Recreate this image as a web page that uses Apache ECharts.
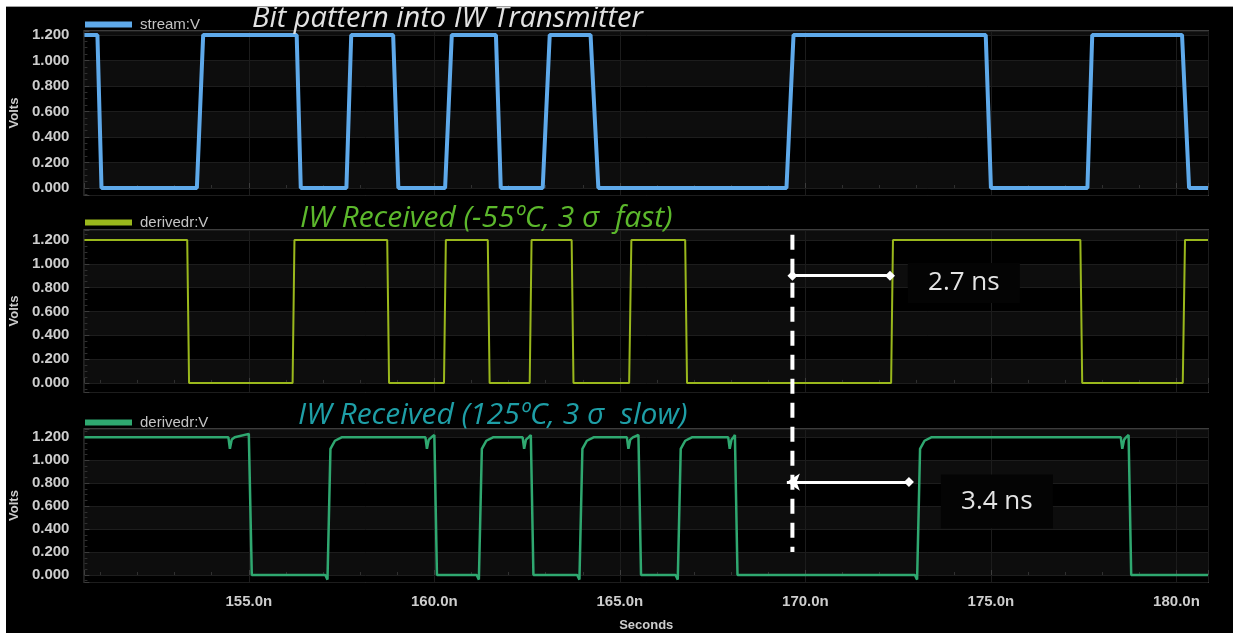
<!DOCTYPE html>
<html>
<head>
<meta charset="utf-8">
<title>IW transmitter bit pattern</title>
<script src="https://cdn.jsdelivr.net/npm/echarts@6.0.0/dist/echarts.min.js"></script>
<style>
  html, body { margin: 0; padding: 0; background: #000; }
  #main { width: 1233px; height: 633px; }
</style>
</head>
<body>
<div id="main"></div>
<script>
// time in ns, voltage in V
const streamT = [150.57, 150.92, 151.03, 153.60, 153.77, 156.29, 156.40, 157.63, 157.76, 158.89, 159.03, 160.29, 160.47, 161.66,
  161.79, 162.92, 163.11, 164.21, 164.42, 169.49, 169.68, 174.86, 175.00, 177.60, 177.73, 180.15, 180.34, 180.85];
const streamV = [1.2, 1.2, 0, 0, 1.2, 1.2, 0, 0, 1.2, 1.2, 0, 0, 1.2, 1.2,
  0, 0, 1.2, 1.2, 0, 0, 1.2, 1.2, 0, 0, 1.2, 1.2, 0, 0];

const fastT = [150.57, 153.34, 153.39, 156.18, 156.23, 158.73, 158.78, 160.26, 160.31, 161.44, 161.49, 162.57, 162.62,
  163.70, 163.75, 165.25, 165.31, 166.76, 166.81, 172.31, 172.36, 177.41, 177.46, 180.17, 180.23, 180.85];
const fastV = [1.2, 1.2, 0, 0, 1.2, 1.2, 0, 0, 1.2, 1.2, 0, 0, 1.2,
  1.2, 0, 0, 1.2, 1.2, 0, 0, 1.2, 1.2, 0, 0, 1.2, 1.2];

const slowT = [150.57,
  154.45, 154.49, 154.54, 154.62, 155.00, 155.08,
  157.06, 157.12, 157.20, 157.32, 157.50,
  159.76, 159.80, 159.85, 159.92, 160.00, 160.07,
  161.14, 161.20, 161.28, 161.40, 161.58,
  162.38, 162.42, 162.47, 162.54, 162.60, 162.67,
  163.85, 163.91, 163.99, 164.11, 164.29,
  165.19, 165.23, 165.28, 165.35, 165.50, 165.57,
  166.50, 166.56, 166.64, 166.76, 166.94,
  167.92, 167.96, 168.01, 168.06, 168.10, 168.17,
  172.95, 173.01, 173.09, 173.21, 173.39,
  178.50, 178.54, 178.59, 178.64, 178.71, 178.78,
  180.85];
const slowV = [1.2,
  1.2, 1.1, 1.18, 1.2, 1.23, 0,
  0, -0.04, 1.1, 1.17, 1.2,
  1.2, 1.1, 1.18, 1.2, 1.22, 0,
  0, -0.04, 1.1, 1.17, 1.2,
  1.2, 1.1, 1.18, 1.2, 1.22, 0,
  0, -0.04, 1.1, 1.17, 1.2,
  1.2, 1.1, 1.18, 1.2, 1.22, 0,
  0, -0.04, 1.1, 1.17, 1.2,
  1.2, 1.1, 1.18, 1.2, 1.22, 0,
  0, -0.04, 1.1, 1.17, 1.2,
  1.2, 1.1, 1.18, 1.2, 1.22, 0,
  0];

const xMin = 150.57;
const xMax = 180.85;
const yMins = [-0.055, -0.076, -0.061];
const yMaxs = [1.231, 1.284, 1.2725];

const cursorT = 169.65;
const fastDelayEnd = 172.28;
const fastDelayV = 0.9;
const slowDelayStart = 169.5;
const slowDelayEnd = 172.79;
const slowDelayV = 0.81;
const fastLabel = { t: 174.27, v: 0.84, text: '2.7 ns' };
const slowLabel = { t: 175.16, v: 0.64, text: '3.4 ns' };

const colors = ['#5ea9ea', '#9ab81c', '#2fa870'];
const titles = ['Bit pattern into IW Transmitter', 'IW Received (-55ºC, 3 σ  fast)', 'IW Received (125ºC, 3 σ  slow)'];
const titleColors = ['#e2e2e2', '#5cb82c', '#1e9ea6'];

const zip = (ts, vs) => ts.map((t, i) => [t, vs[i]]);

const grids = [
  { left: 80, right: 25, top: 31, height: 164 },
  { left: 80, right: 25, top: 230, height: 162 },
  { left: 80, right: 25, top: 429, height: 160 },
];

const labelColor = '#cdcdcd';
const frameColor = '#3d3d3d';

const xAxes = grids.map((g, i) => ({
  type: 'value',
  gridIndex: i,
  min: xMin,
  max: xMax,
  splitNumber: 6,
  axisLine: { show: false },
  axisTick: { show: true, inside: true, length: 5, lineStyle: { color: frameColor } },
  minorTick: { show: true, splitNumber: 5, length: 3, lineStyle: { color: '#303030' } },
  splitLine: { show: true, lineStyle: { color: '#1c1c1c', width: 1 } },
  axisLabel: {
    show: i === 2,
    showMinLabel: false,
    showMaxLabel: false,
    color: labelColor,
    fontSize: 15,
    fontWeight: 'bold',
    fontFamily: 'Liberation Sans',
    margin: 12,
    formatter: (v) => v.toFixed(1) + 'n',
  },
  name: i === 2 ? 'Seconds' : '',
  nameLocation: 'middle',
  nameGap: 37,
  nameTextStyle: { color: labelColor, fontSize: 13, fontWeight: 'bold', fontFamily: 'Liberation Sans' },
}));

const yAxes = grids.map((g, i) => ({
  type: 'value',
  gridIndex: i,
  min: yMins[i],
  max: yMaxs[i],
  splitNumber: 6,
  axisLine: { show: false },
  axisTick: { show: true, inside: true, length: 5, lineStyle: { color: frameColor } },
  minorTick: { show: true, splitNumber: 4, length: 3, lineStyle: { color: '#303030' } },
  splitLine: { show: true, lineStyle: { color: '#1d1d1d', width: 1 } },
  splitArea: { show: true, areaStyle: { color: ['#000000', '#0d0d0d'] } },
  axisLabel: {
    showMinLabel: false,
    showMaxLabel: false,
    color: labelColor,
    fontSize: 15,
    fontWeight: 'bold',
    fontFamily: 'Liberation Sans',
    margin: 15,
    formatter: (v) => v.toFixed(3),
  },
  name: 'Volts',
  nameLocation: 'middle',
  nameGap: 63,
  nameTextStyle: { color: labelColor, fontSize: 13, fontWeight: 'bold', fontFamily: 'Liberation Sans' },
}));

const legendBase = {
  left: 80,
  itemWidth: 47,
  itemHeight: 6,
  icon: 'rect',
  selectedMode: false,
  textStyle: { color: '#c4c4c4', fontSize: 15, fontFamily: 'Liberation Sans', padding: [0, 0, 0, 3] },
};

const boxLabel = (lab, w, h) => ({
  coord: [lab.t, lab.v],
  symbol: 'rect',
  symbolSize: [w, h],
  itemStyle: { color: '#040404' },
  label: {
    show: true,
    position: 'inside',
    formatter: lab.text,
    color: '#e4e4e4',
    fontSize: 26,
    fontFamily: 'Open Sans',
  },
});

const option = {
  backgroundColor: '#000',
  animation: false,
  title: titles.map((t, i) => ({
    text: t,
    left: [252, 300, 298][i],
    top: [4, 203, 400][i],
    padding: 0,
    textStyle: {
      color: titleColors[i],
      fontSize: [29, 30, 30][i],
      fontStyle: 'italic',
      fontWeight: 'normal',
      fontFamily: 'Open Sans',
    },
  })),
  legend: [
    Object.assign({}, legendBase, { top: 12, data: ['stream:V'] }),
    Object.assign({}, legendBase, { top: 210, data: [{ name: 'derivedr:V', itemStyle: { color: colors[1] } }] }),
    Object.assign({}, legendBase, { top: 410, data: [{ name: 'derivedr:V', itemStyle: { color: colors[2] } }] }),
  ],
  grid: grids.map((g) => Object.assign({ show: true, borderColor: frameColor, borderWidth: 2 }, g)),
  xAxis: xAxes,
  yAxis: yAxes,
  series: [
    {
      name: 'stream:V',
      type: 'line',
      xAxisIndex: 0,
      yAxisIndex: 0,
      data: zip(streamT, streamV),
      showSymbol: false,
      symbol: 'none',
      itemStyle: { color: colors[0] },
      lineStyle: { color: colors[0], width: 4 },
    },
    {
      name: 'derivedr:V',
      type: 'line',
      xAxisIndex: 1,
      yAxisIndex: 1,
      data: zip(fastT, fastV),
      showSymbol: false,
      symbol: 'none',
      itemStyle: { color: colors[1] },
      lineStyle: { color: colors[1], width: 2 },
      markLine: {
        silent: true,
        symbolSize: 10,
        lineStyle: { color: '#fff', width: 3, type: 'solid' },
        label: { show: false },
        data: [[
          { coord: [cursorT, fastDelayV], symbol: 'diamond' },
          { coord: [fastDelayEnd, fastDelayV], symbol: 'diamond' },
        ]],
      },
      markPoint: { silent: true, data: [boxLabel(fastLabel, 112, 40)] },
    },
    {
      name: 'derivedr:V',
      type: 'line',
      xAxisIndex: 2,
      yAxisIndex: 2,
      data: zip(slowT, slowV),
      showSymbol: false,
      symbol: 'none',
      itemStyle: { color: colors[2] },
      lineStyle: { color: colors[2], width: 2.5 },
      markLine: {
        silent: true,
        lineStyle: { color: '#fff', width: 3, type: 'solid' },
        label: { show: false },
        data: [[
          { coord: [slowDelayStart, slowDelayV], symbol: 'arrow', symbolSize: 13 },
          { coord: [slowDelayEnd, slowDelayV], symbol: 'diamond', symbolSize: 10 },
        ]],
      },
      markPoint: { silent: true, data: [boxLabel(slowLabel, 112, 54)] },
    },
  ],
};

const chart = echarts.init(document.getElementById('main'));
chart.setOption(option);

// white page edges and the dashed cursor that runs through both received panels
const cx = chart.convertToPixel({ xAxisIndex: 1 }, cursorT);
const cyTop = chart.convertToPixel({ yAxisIndex: 1 }, 1.245);
const cyBottom = chart.convertToPixel({ yAxisIndex: 2 }, 0.2);

chart.setOption({
  graphic: [
    { type: 'rect', z: 100, shape: { x: 0, y: 0, width: 1233, height: 6 }, style: { fill: '#fff' } },
    { type: 'rect', z: 100, shape: { x: 0, y: 6, width: 1233, height: 1 }, style: { fill: '#a0a0a0' } },
    { type: 'rect', z: 100, shape: { x: 0, y: 0, width: 6, height: 633 }, style: { fill: '#fff' } },
    {
      type: 'line',
      z: 50,
      shape: { x1: cx, y1: cyTop, x2: cx, y2: cyBottom },
      style: { stroke: '#fff', lineWidth: 4, lineDash: [15, 9] },
    },
  ],
});
</script>
</body>
</html>
